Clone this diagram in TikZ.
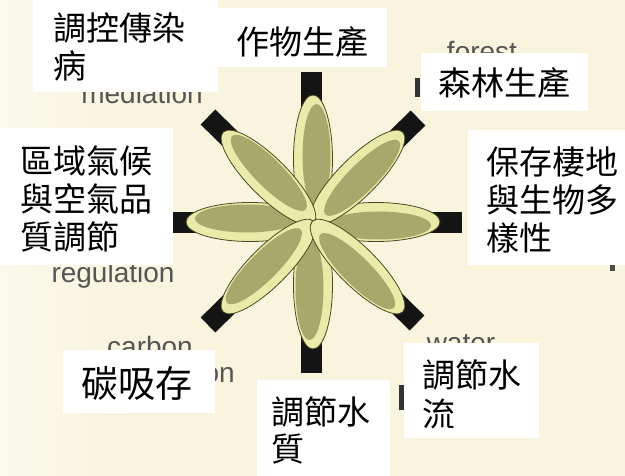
\documentclass[tikz,border=0pt]{standalone}
\usepackage{fontspec}
\newfontfamily\cjk{Noto Sans CJK TC}
\newfontfamily\latinlabel{Liberation Sans}
\definecolor{paper}{HTML}{F8F4DE}
\definecolor{paperlight}{HTML}{FBF9EC}
\definecolor{petallight}{HTML}{E8ECA8}
\definecolor{petaldark}{HTML}{A6A86C}
\definecolor{petalline}{HTML}{4A4A22}
\definecolor{oldtext}{HTML}{555555}
\tikzset{
  bar/.style={line width=21pt, black!92},
  petalout/.style={fill=petallight},
  petalin/.style={fill=petaldark},
  tag/.style={fill=white},
  zh/.style={anchor=north west, inner sep=0pt, align=left, font=\cjk\fontsize{33}{38}\selectfont},
  en/.style={anchor=base, inner sep=0pt, text=oldtext, font=\latinlabel\fontsize{28}{30}\selectfont}
}
\begin{document}
\begin{tikzpicture}[x=1pt,y=-1pt]
\useasboundingbox (0,0) rectangle (625,476);
% paper
\shade[left color=paperlight, right color=paper] (0,0) rectangle (120,476);
\fill[paper] (120,0) rectangle (625,476);

% black bars behind the petals
\coordinate (c) at (313,222);
\draw[bar] (311,72) -- (311,373);
\draw[bar] (173,223) -- (462,223);
\draw[bar] (208,117) -- (417,323);
\draw[bar] (418,118) -- (208,325);

% eight petals
\foreach \a in {90,270,0,180,45,135,225,315}{
  \begin{scope}[shift={(c)}, rotate=\a]
    \fill[petalout] (63,0) ellipse [x radius=64, y radius=19.5];
    \fill[petalin] (66,3.5) ellipse [x radius=52, y radius=14];
    \draw[petalline, line width=0.8pt] (63,0) ellipse [x radius=64, y radius=19.5];
  \end{scope}
}

% older english captions, partly covered
\node[en] (mediation) at (142,104) {mediation};
\node[en] (regulation) at (113,283) {regulation};
\node[en] (carbon) at (150,357) {carbon};
\node[en, anchor=base east] (seqend) at (235,382) {on};
\node[en] (water) at (461,353) {water};
\node[en] (forest) at (482,62) {forest};
\fill[black!80] (415,78) rectangle (420,97);
\fill[black!80] (399,385) rectangle (406,410);
\fill[black!70] (610,263) rectangle (615,271);

% white label boxes
\fill[tag] (33,0) rectangle (218,92);
\fill[tag] (218,8) rectangle (387,67);
\fill[tag] (421,53) rectangle (588,111);
\fill[tag] (468,130) rectangle (625,265);
\fill[tag] (0,128) rectangle (173,265);
\fill[tag] (63,350) rectangle (215,413);
\fill[tag] (257,380) rectangle (390,476);
\fill[tag] (404,343) rectangle (539,438);

% labels
\node[zh] (disease) at (53,12) {調控傳染\\病};
\node[zh] (crop) at (236,26) {作物生產};
\node[zh] (wood) at (438,67) {森林生產};
\node[zh] (habitat) at (486,147) {保存棲地\\與生物多\\樣性};
\node[zh] (climate) at (20,146) {區域氣候\\與空氣品\\質調節};
\node[zh, font=\cjk\fontsize{37}{40}\selectfont] (carbonstore) at (81,366) {碳吸存};
\node[zh, font=\cjk\fontsize{33}{37}\selectfont] (waterquality) at (271,396) {調節水\\質};
\node[zh, font=\cjk\fontsize{33}{39}\selectfont] (waterflow) at (422,359) {調節水\\流};
\end{tikzpicture}
\end{document}
